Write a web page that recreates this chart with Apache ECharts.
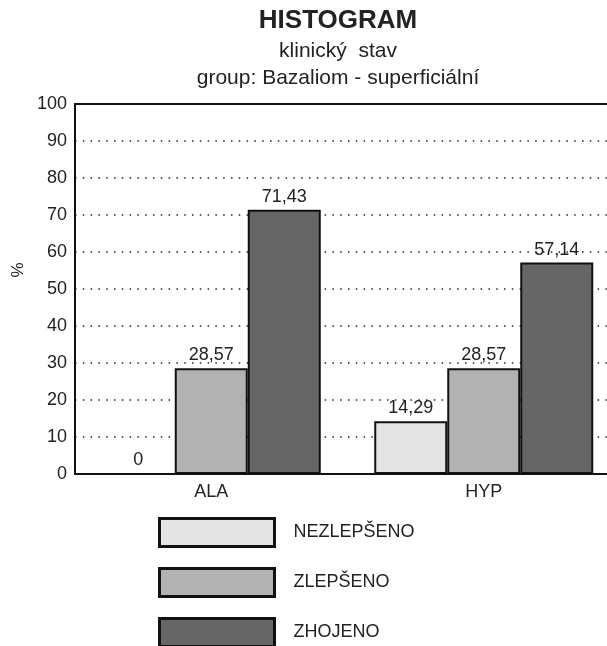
<!DOCTYPE html>
<html><head><meta charset="utf-8">
<script src="https://cdn.jsdelivr.net/npm/echarts@6/dist/echarts.min.js"></script>
<style>html,body{margin:0;padding:0;background:#fff;overflow:hidden;width:607px;height:646px}#c{width:620px;height:680px}</style>
</head><body><div id="c"></div>
<script>
const categories = ['ALA', 'HYP'];
const seriesNames = ['NEZLEPŠENO', 'ZLEPŠENO', 'ZHOJENO'];
const nezlepseno = [0, 14.29];
const zlepseno = [28.57, 28.57];
const zhojeno = [71.43, 57.14];
const yTicks = [0, 10, 20, 30, 40, 50, 60, 70, 80, 90, 100];
const colors = ['#e3e3e3', '#b2b2b2', '#666666'];
const FONT = '"Liberation Sans", Arial, Helvetica, sans-serif';

const chart = echarts.init(document.getElementById('c'), null, {renderer: 'canvas'});
function mk(name, data, color) {
  return {
    name, type: 'bar', data, barWidth: 73, barGap: '0%',
    itemStyle: {color, borderColor: '#111', borderWidth: 2},
    label: {show: true, position: 'top', distance: 4, color: '#222', fontFamily: FONT, fontSize: 18,
      formatter: p => String(p.value).replace('.', ',')},
    emphasis: {disabled: true}, animation: false
  };
}
chart.setOption({
  animation: false,
  title: [
    {text: 'HISTOGRAM', left: 333, textAlign: 'center', top: 3, textStyle: {fontFamily: FONT, fontSize: 26, fontWeight: 'bold', color: '#222'}},
    {text: 'klinický  stav', left: 333, textAlign: 'center', top: 36, textStyle: {fontFamily: FONT, fontSize: 21, fontWeight: 'normal', color: '#222'}},
    {text: 'group: Bazaliom - superficiální', left: 333, textAlign: 'center', top: 63, textStyle: {fontFamily: FONT, fontSize: 21, fontWeight: 'normal', color: '#222'}}
  ],
  grid: {left: 75, top: 104, bottom: 206, right: 0, show: true, borderColor: '#111', borderWidth: 2, backgroundColor: 'transparent'},
  legend: {
    orient: 'vertical', left: 158, top: 517, padding: 0, itemWidth: 115, itemHeight: 28, itemGap: 19,
    icon: 'rect', data: seriesNames,
    itemStyle: {borderColor: '#111', borderWidth: 3},
    textStyle: {fontFamily: FONT, fontSize: 18, color: '#222', padding: [0, 0, 0, 14]},
    selectedMode: false
  },
  graphic: [{
    type: 'text', x: 18, y: 270, rotation: Math.PI / 2,
    style: {text: '%', fontFamily: FONT, fontSize: 17, fill: '#222', align: 'center', verticalAlign: 'middle'}
  }],
  xAxis: {
    type: 'category', data: categories,
    axisLine: {lineStyle: {color: '#111', width: 2}},
    axisTick: {show: false},
    axisLabel: {fontFamily: FONT, fontSize: 18, color: '#222', margin: 9}
  },
  yAxis: {
    type: 'value', min: 0, max: 100, interval: 10,
    axisLine: {show: true, lineStyle: {color: '#111', width: 2}},
    axisTick: {show: false},
    axisLabel: {fontFamily: FONT, fontSize: 18, color: '#222', margin: 8,
      formatter: v => yTicks.includes(v) ? String(v) : ''},
    splitLine: {show: true, lineStyle: {color: '#222', width: 1.5, type: [1.5, 6.3]}}
  },
  series: [mk(seriesNames[0], nezlepseno, colors[0]), mk(seriesNames[1], zlepseno, colors[1]), mk(seriesNames[2], zhojeno, colors[2])]
});
</script></body></html>
